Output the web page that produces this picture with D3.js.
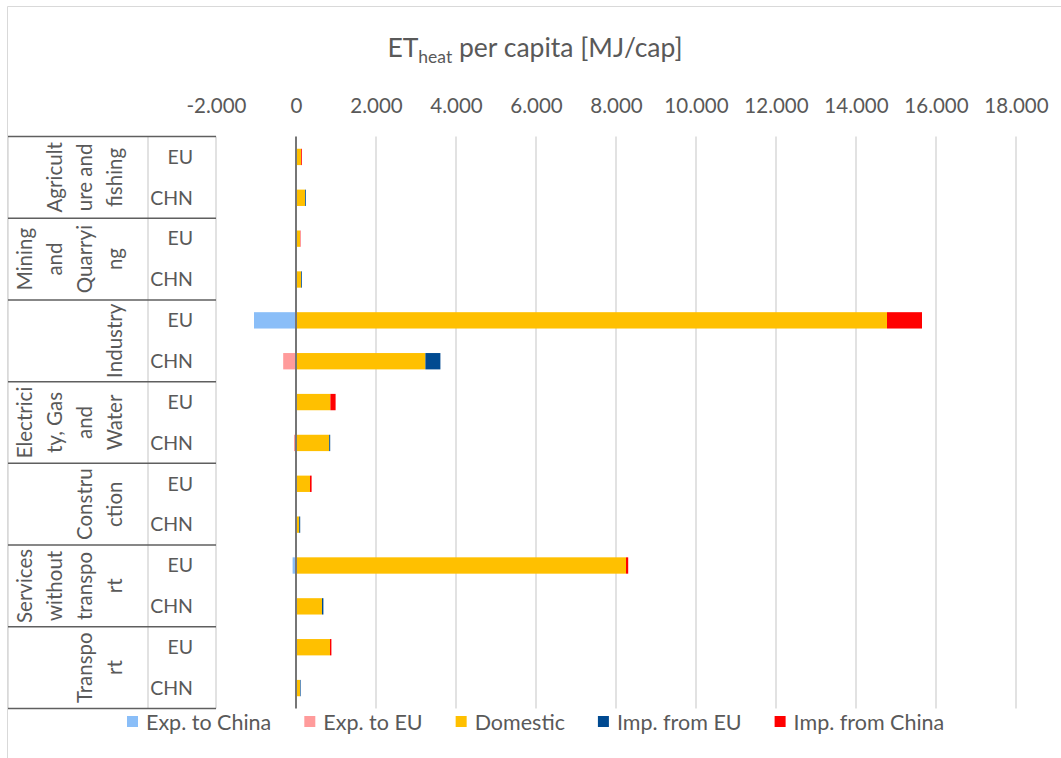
<!DOCTYPE html>
<html>
<head>
<meta charset="utf-8">
<script src="https://cdn.jsdelivr.net/npm/d3@7"></script>
<style>
  html, body { margin: 0; padding: 0; background: #fff; }
  svg { display: block; font-family: Lato, "Open Sans", sans-serif; }
</style>
</head>
<body>
<svg id="chart" width="1061" height="758"></svg>
<script>
// Sectors (outer level of the category axis), each split into an EU and a CHN row
const sectors = [
  "Agriculture and fishing",
  "Mining and Quarrying",
  "Industry",
  "Electricity, Gas and Water",
  "Construction",
  "Services without transport",
  "Transport"
];
// How each sector label wraps in its narrow rotated cell
const sectorLines = [
  ["Agricult", "ure and", "fishing"],
  ["Mining", "and", "Quarryi", "ng"],
  ["Industry"],
  ["Electrici", "ty, Gas", "and", "Water"],
  ["Constru", "ction"],
  ["Services", "without", "transpo", "rt"],
  ["Transpo", "rt"]
];
const regions = ["EU", "CHN"];

const seriesNames = ["Exp. to China", "Exp. to EU", "Domestic", "Imp. from EU", "Imp. from China"];
const seriesColors = ["#8ABEF8", "#FF9B9B", "#FFC000", "#004A91", "#FF0000"];

// ET_heat per capita [MJ/cap], one value per row (sector × region), rows in sector order EU, CHN
const expToChina    = [-20, 0, -10, 0, -1050, 0, -10, 0, -10, 0, -85, 0, -15, 0];
const expToEU       = [0, -10, 0, -10, 0, -320, 0, -50, 0, -5, 0, -10, 0, -5];
const domestic      = [125, 225, 100, 125, 14775, 3235, 860, 830, 350, 80, 8250, 650, 850, 100];
const impFromEU     = [0, 20, 0, 20, 0, 375, 0, 25, 0, 25, 0, 35, 0, 15];
const impFromChina  = [20, 0, 10, 0, 875, 0, 130, 0, 40, 0, 55, 0, 35, 0];

const tickValues = [-2000, 0, 2000, 4000, 6000, 8000, 10000, 12000, 14000, 16000, 18000];
const tickLabels = ["-2.000", "0", "2.000", "4.000", "6.000", "8.000", "10.000", "12.000", "14.000", "16.000", "18.000"];

const textColor = "#595959";

// Build one record per row for d3.stack
const rows = [];
sectors.forEach((s, i) => {
  regions.forEach((r, j) => {
    const k = i * 2 + j;
    rows.push({
      key: s + "|" + r,
      sector: s,
      region: r,
      "Exp. to China": expToChina[k],
      "Exp. to EU": expToEU[k],
      "Domestic": domestic[k],
      "Imp. from EU": impFromEU[k],
      "Imp. from China": impFromChina[k]
    });
  });
});

const svg = d3.select("#chart");

// Chart frame
svg.append("path")
  .attr("d", "M7.5,758 V6.5 H1061")
  .attr("fill", "none")
  .attr("stroke", "#d9d9d9")
  .attr("stroke-width", 1);

const plotLeft = 216, plotRight = 1016, plotTop = 136.5, plotBottom = 708.5;

const x = d3.scaleLinear().domain([-2000, 18000]).range([plotLeft, plotRight]);
const rowY = d3.scaleBand().domain(rows.map(d => d.key)).range([plotTop, plotBottom]);
const sectorY = d3.scaleBand().domain(sectors).range([plotTop, plotBottom]);

// Title with subscript
const title = svg.append("text")
  .attr("x", 535)
  .attr("y", 57)
  .attr("text-anchor", "middle")
  .attr("fill", textColor)
  .attr("font-size", 26.5);
title.append("tspan").text("ET");
title.append("tspan").attr("font-size", 17.5).attr("dy", 6).text("heat");
title.append("tspan").attr("dy", -6).text(" per capita [MJ/cap]");

// Vertical gridlines
svg.append("g")
  .selectAll("line")
  .data(tickValues.filter(v => v !== 0))
  .join("line")
  .attr("x1", d => x(d)).attr("x2", d => x(d))
  .attr("y1", plotTop).attr("y2", plotBottom)
  .attr("stroke", "#d9d9d9")
  .attr("stroke-width", 1.5);

// Value axis along the top
const xAxis = d3.axisTop(x)
  .tickValues(tickValues)
  .tickFormat((d, i) => tickLabels[i])
  .tickSize(0)
  .tickPadding(0);
const axisG = svg.append("g")
  .attr("transform", `translate(0,${113})`)
  .call(xAxis);
axisG.select(".domain").remove();
axisG.selectAll("text")
  .attr("fill", textColor)
  .attr("font-size", 20.5)
  .attr("font-family", "Lato, sans-serif")
  .attr("dy", 0);

// Stacked bars (negatives to the left of zero)
const stack = d3.stack().keys(seriesNames).offset(d3.stackOffsetDiverging);
const stacked = stack(rows);
const color = d3.scaleOrdinal().domain(seriesNames).range(seriesColors);

svg.append("g")
  .selectAll("g")
  .data(stacked)
  .join("g")
  .attr("fill", d => color(d.key))
  .selectAll("rect")
  .data(d => d.filter(s => s[1] !== s[0]))
  .join("rect")
  .attr("x", d => x(Math.min(d[0], d[1])))
  .attr("width", d => Math.abs(x(d[1]) - x(d[0])))
  .attr("y", d => rowY(d.data.key) + rowY.bandwidth() * 0.3)
  .attr("height", rowY.bandwidth() * 0.4);

// Zero line
svg.append("line")
  .attr("x1", x(0)).attr("x2", x(0))
  .attr("y1", plotTop).attr("y2", plotBottom)
  .attr("stroke", "#767676")
  .attr("stroke-width", 2);

// Multi-level category axis on the left
const catG = svg.append("g");
catG.append("line")
  .attr("x1", 148).attr("x2", 148)
  .attr("y1", plotTop).attr("y2", plotBottom)
  .attr("stroke", "#d9d9d9").attr("stroke-width", 1.5);
catG.append("line")
  .attr("x1", 8).attr("x2", 8)
  .attr("y1", plotTop).attr("y2", plotBottom)
  .attr("stroke", "#d9d9d9").attr("stroke-width", 1.5);

const bounds = sectors.map(s => sectorY(s)).concat([plotBottom]);
catG.selectAll("line.sep")
  .data(bounds)
  .join("line")
  .attr("class", "sep")
  .attr("x1", 8).attr("x2", plotLeft)
  .attr("y1", d => d).attr("y2", d => d)
  .attr("stroke", "#5f5f5f")
  .attr("stroke-width", 1.5);

// Region labels
catG.selectAll("text.region")
  .data(rows)
  .join("text")
  .attr("class", "region")
  .attr("x", 193)
  .attr("y", d => rowY(d.key) + rowY.bandwidth() / 2)
  .attr("dy", "0.35em")
  .attr("text-anchor", "end")
  .attr("fill", textColor)
  .attr("font-size", 19.5)
  .text(d => d.region);

// Rotated, wrapped sector labels
sectors.forEach((s, i) => {
  const lines = sectorLines[i];
  const cy = sectorY(s) + sectorY.bandwidth() / 2;
  lines.forEach((ln, j) => {
    const cx = 115 - (lines.length - 1 - j) * 30;
    catG.append("text")
      .attr("transform", `translate(${cx},${cy}) rotate(-90)`)
      .attr("text-anchor", "middle")
      .attr("dy", "0.35em")
      .attr("fill", textColor)
      .attr("font-size", 20.5)
      .text(ln);
  });
});

// Legend: swatch, label, fixed gap before the next entry
const legend = svg.append("g").attr("transform", "translate(0,730)");
const items = legend.selectAll("g")
  .data(seriesNames)
  .join("g");
items.append("rect")
  .attr("width", 11).attr("height", 11)
  .attr("y", -14)
  .attr("fill", d => color(d));
items.append("text")
  .attr("x", 19)
  .attr("fill", textColor)
  .attr("font-size", 21.5)
  .text(d => d);
const widths = [];
items.each(function () {
  widths.push(19 + this.querySelector("text").getComputedTextLength());
});
const gap = 33;
let cursor = 127;
items.attr("transform", (d, i) => {
  const tx = cursor;
  cursor += widths[i] + gap;
  return `translate(${tx},0)`;
});
</script>
</body>
</html>
